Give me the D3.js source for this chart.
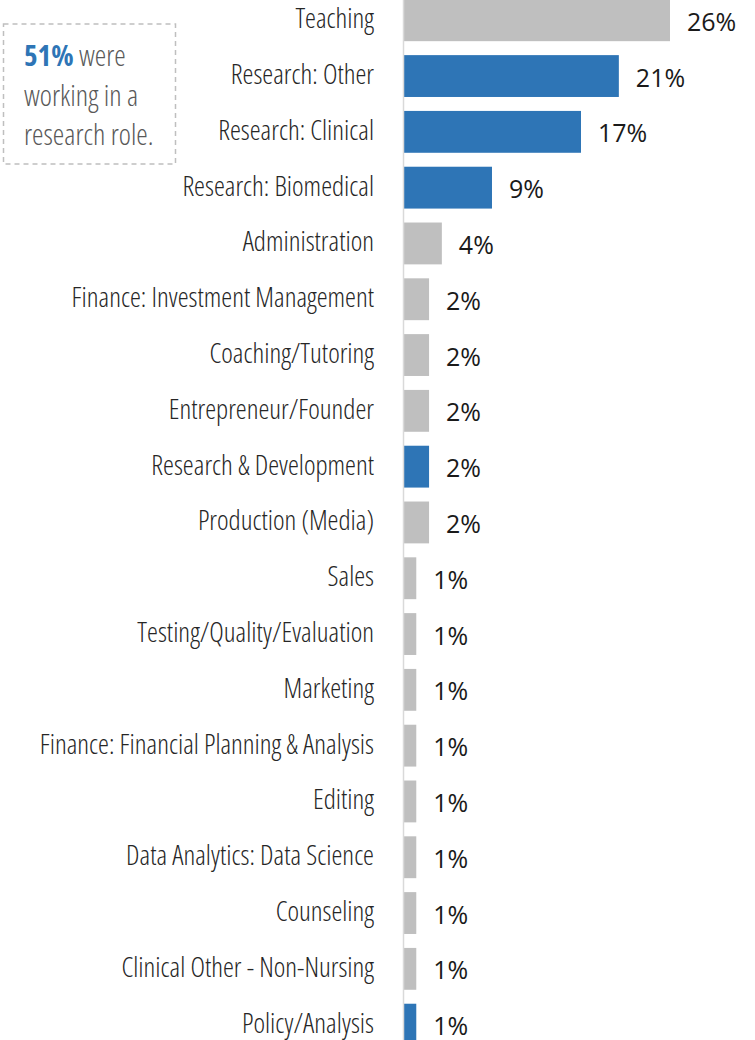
<!DOCTYPE html>
<html>
<head>
<meta charset="utf-8">
<script src="https://cdn.jsdelivr.net/npm/d3@7"></script>
<style>
  html, body { margin: 0; padding: 0; background: #fff; }
  svg { display: block; }
  .cond { font-family: "Open Sans", "Liberation Sans Narrow", sans-serif; font-stretch: 75%; font-weight: 300; }
</style>
</head>
<body>
<svg id="chart" width="755" height="1040"></svg>
<script>
const categories = [
  "Teaching", "Research: Other", "Research: Clinical", "Research: Biomedical",
  "Administration", "Finance: Investment Management", "Coaching/Tutoring",
  "Entrepreneur/Founder", "Research & Development", "Production (Media)",
  "Sales", "Testing/Quality/Evaluation", "Marketing",
  "Finance: Financial Planning & Analysis", "Editing",
  "Data Analytics: Data Science", "Counseling", "Clinical Other - Non-Nursing",
  "Policy/Analysis"
];
const values = [26.0, 21.0, 17.3, 8.6, 3.7, 2.45, 2.45, 2.45, 2.45, 2.45,
  1.2, 1.2, 1.2, 1.2, 1.2, 1.2, 1.2, 1.2, 1.2];
const valueLabels = ["26%", "21%", "17%", "9%", "4%", "2%", "2%", "2%", "2%", "2%",
  "1%", "1%", "1%", "1%", "1%", "1%", "1%", "1%", "1%"];
const research = [false, true, true, true, false, false, false, false, true, false,
  false, false, false, false, false, false, false, false, true];
const noteLines = [["51%", " were"], ["", "working in a"], ["", "research role."]];

const svg = d3.select("#chart");
const x0 = 404;
const x = d3.scaleLinear().domain([0, 26]).range([x0, 670]);
const pitch = 55.8;
const y = d3.scaleBand().domain(categories)
  .range([20.25 - pitch / 2, 20.25 - pitch / 2 + pitch * categories.length])
  .paddingInner(0.25).paddingOuter(0.125);

const data = categories.map((c, i) => ({ c, v: values[i], l: valueLabels[i], r: research[i] }));

// bars
svg.append("g").selectAll("rect").data(data).join("rect")
  .attr("x", x(0))
  .attr("y", d => y(d.c))
  .attr("width", d => x(d.v) - x(0))
  .attr("height", y.bandwidth())
  .attr("fill", d => d.r ? "#2e75b6" : "#bfbfbf");

// axis line
svg.append("line")
  .attr("x1", 403.5).attr("x2", 403.5).attr("y1", 0).attr("y2", 1040)
  .attr("stroke", "#d9d9d9").attr("stroke-width", 1.5);

// category labels
svg.append("g").selectAll("text").data(data).join("text")
  .attr("class", "cond")
  .attr("x", 374)
  .attr("y", d => y(d.c) + y.bandwidth() / 2 + 8)
  .attr("text-anchor", "end")
  .attr("font-size", 27.6)
  .attr("fill", "#262626")
  .text(d => d.c);

// value labels
svg.append("g").selectAll("text").data(data).join("text")
  .attr("x", d => x(d.v) + 17)
  .attr("y", d => y(d.c) + y.bandwidth() / 2 + 10.5)
  .attr("font-family", "'Open Sans', sans-serif")
  .attr("font-size", 25)
  .attr("fill", "#1a1a1a")
  .text(d => d.l);

// annotation box
svg.append("rect")
  .attr("x", 3.5).attr("y", 24).attr("width", 172).attr("height", 140)
  .attr("fill", "none").attr("stroke", "#bfbfbf").attr("stroke-width", 1.5)
  .attr("stroke-dasharray", "5,4");

const note = svg.append("text").attr("class", "cond").attr("font-size", 29).attr("fill", "#595959");
noteLines.forEach((ln, i) => {
  const base = 66 + i * 39.5;
  if (ln[0]) {
    note.append("tspan").attr("x", 24).attr("y", base)
      .attr("font-weight", 700).attr("fill", "#2e75b6").text(ln[0]);
    note.append("tspan").text(ln[1]);
  } else {
    note.append("tspan").attr("x", 24).attr("y", base).text(ln[1]);
  }
});
</script>
</body>
</html>
